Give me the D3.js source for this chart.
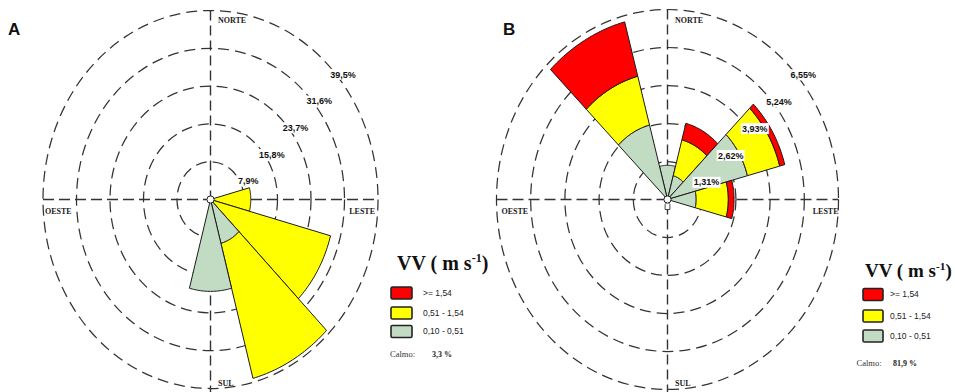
<!DOCTYPE html>
<html>
<head>
<meta charset="utf-8">
<script src="https://cdn.jsdelivr.net/npm/d3@7"></script>
<style>
  html, body { margin: 0; padding: 0; background: #fff; }
  svg { display: block; }
</style>
</head>
<body>
<svg id="chart" width="955" height="392"></svg>
<script>
// Wind directions (degrees clockwise from north), 30° sectors
const directionAngles = [0, 30, 60, 90, 120, 150, 180, 210, 240, 270, 300, 330];

// Wind speed classes (m/s) and their colours
const classLabels = [">= 1,54", "0,51 - 1,54", "0,10 - 0,51"];
const classColors = ["#ff0000", "#ffff00", "#c2dcc4"];

// Panel A: frequency (%) per direction for each speed class
const lowA  = [0, 0, 0, 0,   0,    9.5,  19.2, 0, 0, 0, 0, 0];
const midA  = [0, 0, 0, 9.5, 29.3, 29.2, 0,    0, 0, 0, 0, 0];
const highA = [0, 0, 0, 0,   0,    0,    0,    0, 0, 0, 0, 0];
const ticksA = [7.9, 15.8, 23.7, 31.6, 39.5];
const tickLabelsA = ["7,9%", "15,8%", "23,7%", "31,6%", "39,5%"];
const calmA = "3,3 %";

// Panel B: frequency (%) per direction for each speed class
const lowB  = [1.18, 0.85, 3.17, 1.10, 0, 0, 0, 0, 0, 0, 0, 2.66];
const midB  = [0,    1.28, 1.28, 1.23, 0, 0, 0, 0, 0, 0, 0, 1.74];
const highB = [0,    0.59, 0.20, 0.22, 0, 0, 0, 0, 0, 0, 0, 1.94];
const ticksB = [1.31, 2.62, 3.93, 5.24, 6.55];
const tickLabelsB = ["1,31%", "2,62%", "3,93%", "5,24%", "6,55%"];
const calmB = "81,9 %";

const compassLabels = ["NORTE", "SUL", "OESTE", "LESTE"];

const svg = d3.select("#chart");

const panels = [
  { letter: "A", letterX: 8, cx: 210.5, cy: 199.5, rx: 167.5, ry: 189,
    low: lowA, mid: midA, high: highA, ticks: ticksA, tickLabels: tickLabelsA,
    calm: calmA, oesteDx: 2, lesteDx: -3, labelOff: [14, 8.5], vane: false,
    legend: { titleX: 397, titleY: 270, titleSize: 20, boxX: 391, boxW: 21, boxY: [287, 307, 325.5],
              textX: 423, calmX: 390, calmValX: 432, calmY: 357 } },
  { letter: "B", letterX: 503, cx: 667.5, cy: 199.5, rx: 171, ry: 190,
    low: lowB, mid: midB, high: highB, ticks: ticksB, tickLabels: tickLabelsB,
    calm: calmB, oesteDx: 5, lesteDx: 0, labelOff: [14.8, 9.7], vane: true,
    legend: { titleX: 865, titleY: 277, titleSize: 19, boxX: 863, boxW: 20, boxY: [288.5, 310, 330],
              textX: 890, calmX: 856.5, calmValX: 893, calmY: 366 } }
];

const line = d3.line();

panels.forEach(p => {
  const maxV = p.ticks[p.ticks.length - 1];
  const rX = d3.scaleLinear().domain([0, maxV]).range([0, p.rx]);
  const rY = d3.scaleLinear().domain([0, maxV]).range([0, p.ry]);
  const pt = (deg, v) => {
    const a = deg * Math.PI / 180;
    return [p.cx + rX(v) * Math.sin(a), p.cy - rY(v) * Math.cos(a)];
  };
  const g = svg.append("g");

  // Dashed rings
  g.selectAll("ellipse.ring").data(p.ticks).join("ellipse")
    .attr("class", "ring")
    .attr("cx", p.cx).attr("cy", p.cy)
    .attr("rx", d => rX(d)).attr("ry", d => rY(d))
    .attr("fill", "none").attr("stroke", "#333")
    .attr("stroke-width", 1.25).attr("stroke-dasharray", "11,6");

  // Dashed cross axes
  g.append("line")
    .attr("x1", p.cx - rX(maxV)).attr("x2", p.cx + rX(maxV))
    .attr("y1", p.cy).attr("y2", p.cy)
    .attr("stroke", "#333").attr("stroke-width", 1.4).attr("stroke-dasharray", "11,5");
  g.append("line")
    .attr("x1", p.cx).attr("x2", p.cx)
    .attr("y1", p.cy - rY(maxV)).attr("y2", p.cy + rY(maxV) + 8)
    .attr("stroke", "#333").attr("stroke-width", 1.4).attr("stroke-dasharray", "10,5");

  // Stacked petals: weakest class innermost, strongest outermost
  const segments = [];
  directionAngles.forEach((ang, i) => {
    const stack = [[p.low[i], classColors[2]], [p.mid[i], classColors[1]], [p.high[i], classColors[0]]];
    let base = 0;
    stack.forEach(([v, col]) => {
      if (v > 0) segments.push({ ang, r0: base, r1: base + v, col });
      base += v;
    });
  });
  const wedgePath = s => {
    const a0 = s.ang - 15, a1 = s.ang + 15;
    const steps = d3.range(0, 31).map(k => a0 + (a1 - a0) * k / 30);
    const outer = steps.map(a => pt(a, s.r1));
    const inner = s.r0 > 0 ? steps.slice().reverse().map(a => pt(a, s.r0)) : [pt(0, 0)];
    return line(outer.concat(inner)) + "Z";
  };
  g.selectAll("path.petal").data(segments).join("path")
    .attr("class", "petal")
    .attr("d", wedgePath)
    .attr("fill", d => d.col)
    .attr("stroke", "#1a1a1a").attr("stroke-width", 1)
    .attr("stroke-linejoin", "miter");

  // Centre marker
  if (p.vane) {
    g.append("path")
      .attr("d", `M${p.cx},${p.cy + 2} L${p.cx + 2.4},${p.cy + 5} L${p.cx + 2.4},${p.cy + 10} L${p.cx - 2.4},${p.cy + 10} L${p.cx - 2.4},${p.cy + 5} Z`)
      .attr("fill", "#fff").attr("stroke", "#333").attr("stroke-width", 0.9);
  }
  g.append("circle").attr("cx", p.cx).attr("cy", p.cy).attr("r", 3.6)
    .attr("fill", "#fff").attr("stroke", "#222").attr("stroke-width", 1);

  // Ring value labels along the north-east diagonal
  const lab = g.selectAll("g.tick").data(p.ticks).join("g")
    .attr("class", "tick")
    .attr("transform", d => {
      const [x, y] = pt(45, d);
      return `translate(${x + p.labelOff[0]},${y + p.labelOff[1]})`;
    });
  lab.append("rect").attr("x", -14).attr("y", -5.5).attr("width", 28).attr("height", 11).attr("fill", "#fff");
  lab.append("text")
    .attr("text-anchor", "middle").attr("dy", "0.35em")
    .attr("font-family", "Liberation Sans, Arial, sans-serif")
    .attr("font-weight", "bold").attr("font-size", 9).attr("fill", "#111")
    .text((d, i) => p.tickLabels[i]);

  // Compass labels
  const compass = [
    { t: compassLabels[0], x: p.cx + 7.5, y: 22.5, anchor: "start" },
    { t: compassLabels[1], x: p.cx + 7.5, y: 386, anchor: "start" },
    { t: compassLabels[2], x: p.cx - rX(maxV) + p.oesteDx, y: p.cy + 14, anchor: "start" },
    { t: compassLabels[3], x: p.cx + rX(maxV) + p.lesteDx, y: p.cy + 14, anchor: "end" }
  ];
  compass.forEach(c => {
    g.append("text").attr("x", c.x).attr("y", c.y).attr("text-anchor", c.anchor)
      .attr("font-family", "Liberation Serif, Times New Roman, serif")
      .attr("font-weight", "bold").attr("font-size", 8)
      .attr("fill", "#222").text(c.t);
  });

  // Panel letter
  svg.append("text").attr("x", p.letterX).attr("y", 35)
    .attr("font-family", "Liberation Sans, Arial, sans-serif")
    .attr("font-weight", "bold").attr("font-size", 17).attr("fill", "#111")
    .text(p.letter);

  // Legend
  const L = p.legend;
  const title = svg.append("text").attr("x", L.titleX).attr("y", L.titleY)
    .attr("font-family", "Liberation Serif, Times New Roman, serif")
    .attr("font-weight", "bold").attr("font-size", L.titleSize).attr("fill", "#111");
  title.append("tspan").text("VV ( m s");
  title.append("tspan").attr("dy", -L.titleSize * 0.38).attr("font-size", L.titleSize * 0.6).text("-1");
  title.append("tspan").attr("dy", L.titleSize * 0.38).text(")");

  classLabels.forEach((lbl, i) => {
    svg.append("rect").attr("x", L.boxX).attr("y", L.boxY[i])
      .attr("width", L.boxW).attr("height", 12).attr("rx", 1.5)
      .attr("fill", classColors[i]).attr("stroke", "#222").attr("stroke-width", 1.6);
    svg.append("text").attr("x", L.textX).attr("y", L.boxY[i] + 6).attr("dy", "0.35em")
      .attr("font-family", "Liberation Sans, Arial, sans-serif")
      .attr("font-size", 8.5).attr("fill", "#222").text(lbl);
  });
  svg.append("text").attr("x", L.calmX).attr("y", L.calmY)
    .attr("font-family", "Liberation Serif, Times New Roman, serif")
    .attr("font-size", 8.5).attr("fill", "#333").text("Calmo:");
  svg.append("text").attr("x", L.calmValX).attr("y", L.calmY)
    .attr("font-family", "Liberation Serif, Times New Roman, serif")
    .attr("font-weight", "bold").attr("font-size", 8).attr("fill", "#222").text(p.calm);
});
</script>
</body>
</html>
